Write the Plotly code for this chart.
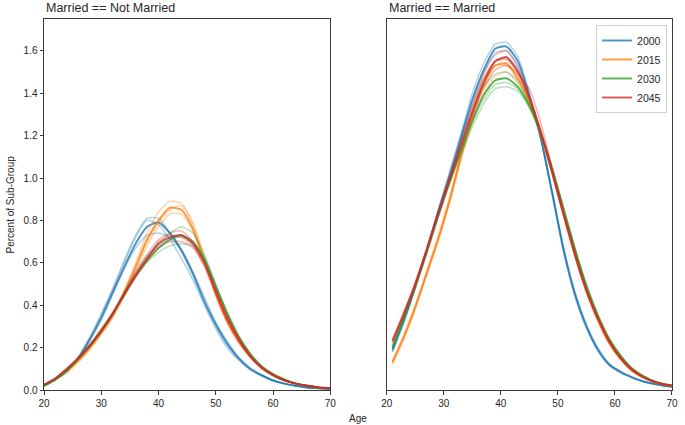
import plotly.graph_objects as go

# ---------------- data ----------------
YEARS = ["2000", "2015", "2030", "2045"]
COLORS = ["#1f77b4", "#ff7f0e", "#2ca02c", "#d62728"]

AGES_NM = [20, 22, 24, 26, 28, 30, 32, 34, 36, 38, 40, 42, 44, 46, 48, 50, 52, 54, 56, 58, 60, 62, 64, 66, 68, 70]
AGES_M = [21, 23, 25, 27, 29, 31, 33, 35, 37, 39, 41, 43, 45, 47, 49, 51, 53, 55, 57, 59, 61, 63, 65, 67, 69, 70]

# Not Married panel: mean curve per year group
NM_2000 = [0.02, 0.05, 0.09, 0.15, 0.24, 0.34, 0.46, 0.58, 0.69, 0.77, 0.79, 0.74, 0.66, 0.55, 0.42, 0.31, 0.22, 0.15, 0.10, 0.07, 0.045, 0.03, 0.02, 0.012, 0.008, 0.005]
NM_2015 = [0.02, 0.05, 0.09, 0.14, 0.20, 0.27, 0.35, 0.46, 0.58, 0.71, 0.80, 0.86, 0.85, 0.76, 0.61, 0.45, 0.32, 0.23, 0.16, 0.11, 0.07, 0.045, 0.03, 0.02, 0.012, 0.008]
NM_2030 = [0.02, 0.05, 0.09, 0.15, 0.21, 0.28, 0.36, 0.45, 0.54, 0.61, 0.67, 0.71, 0.73, 0.70, 0.62, 0.49, 0.36, 0.25, 0.17, 0.11, 0.075, 0.05, 0.03, 0.02, 0.012, 0.008]
NM_2045 = [0.025, 0.055, 0.10, 0.15, 0.21, 0.28, 0.36, 0.45, 0.54, 0.62, 0.69, 0.72, 0.73, 0.69, 0.60, 0.47, 0.34, 0.24, 0.16, 0.105, 0.07, 0.045, 0.03, 0.02, 0.012, 0.008]

# Not Married panel: individual year lines
NM_2000_THIN = [
    [0.02, 0.05, 0.10, 0.16, 0.25, 0.36, 0.48, 0.61, 0.73, 0.81, 0.81, 0.74, 0.65, 0.54, 0.41, 0.30, 0.21, 0.145, 0.10, 0.07, 0.045, 0.03, 0.02, 0.012, 0.008, 0.005],
    [0.02, 0.05, 0.09, 0.15, 0.23, 0.33, 0.45, 0.57, 0.67, 0.73, 0.74, 0.72, 0.66, 0.56, 0.44, 0.32, 0.23, 0.155, 0.105, 0.07, 0.047, 0.03, 0.02, 0.012, 0.008, 0.005],
    [0.02, 0.05, 0.09, 0.15, 0.24, 0.35, 0.47, 0.60, 0.72, 0.80, 0.78, 0.71, 0.62, 0.52, 0.40, 0.29, 0.20, 0.14, 0.095, 0.065, 0.042, 0.028, 0.018, 0.011, 0.007, 0.005],
]
NM_2015_THIN = [
    [0.02, 0.05, 0.09, 0.14, 0.20, 0.27, 0.36, 0.47, 0.60, 0.74, 0.84, 0.89, 0.88, 0.78, 0.62, 0.46, 0.33, 0.23, 0.16, 0.11, 0.07, 0.045, 0.03, 0.02, 0.012, 0.008],
    [0.02, 0.05, 0.08, 0.13, 0.19, 0.26, 0.34, 0.44, 0.56, 0.68, 0.77, 0.83, 0.83, 0.75, 0.61, 0.46, 0.33, 0.235, 0.165, 0.11, 0.072, 0.046, 0.03, 0.02, 0.012, 0.008],
    [0.02, 0.05, 0.09, 0.14, 0.20, 0.28, 0.36, 0.46, 0.58, 0.70, 0.79, 0.85, 0.87, 0.79, 0.63, 0.46, 0.32, 0.22, 0.155, 0.105, 0.068, 0.044, 0.03, 0.02, 0.012, 0.008],
]
NM_2030_THIN = [
    [0.02, 0.05, 0.09, 0.15, 0.21, 0.28, 0.36, 0.45, 0.55, 0.63, 0.69, 0.74, 0.77, 0.74, 0.64, 0.50, 0.36, 0.25, 0.17, 0.11, 0.075, 0.05, 0.03, 0.02, 0.012, 0.008],
    [0.02, 0.05, 0.09, 0.14, 0.20, 0.27, 0.35, 0.44, 0.53, 0.60, 0.65, 0.68, 0.69, 0.68, 0.61, 0.49, 0.37, 0.26, 0.175, 0.115, 0.077, 0.05, 0.032, 0.02, 0.012, 0.008],
    [0.02, 0.05, 0.09, 0.15, 0.21, 0.29, 0.37, 0.46, 0.55, 0.63, 0.68, 0.71, 0.72, 0.70, 0.61, 0.48, 0.35, 0.245, 0.165, 0.11, 0.072, 0.048, 0.03, 0.02, 0.012, 0.008],
]
NM_2045_THIN = [
    [0.025, 0.055, 0.10, 0.15, 0.21, 0.28, 0.36, 0.46, 0.56, 0.64, 0.71, 0.74, 0.75, 0.70, 0.60, 0.46, 0.33, 0.23, 0.155, 0.10, 0.068, 0.044, 0.03, 0.02, 0.012, 0.008],
    [0.025, 0.055, 0.10, 0.15, 0.21, 0.28, 0.36, 0.45, 0.53, 0.61, 0.67, 0.70, 0.70, 0.67, 0.59, 0.47, 0.35, 0.25, 0.165, 0.11, 0.072, 0.046, 0.03, 0.02, 0.012, 0.008],
    [0.025, 0.055, 0.10, 0.15, 0.21, 0.28, 0.36, 0.45, 0.54, 0.62, 0.70, 0.73, 0.72, 0.68, 0.58, 0.45, 0.33, 0.235, 0.16, 0.105, 0.07, 0.045, 0.03, 0.02, 0.012, 0.008],
]

# Married panel: mean curve per year group
M_2000 = [0.19, 0.33, 0.49, 0.66, 0.84, 1.01, 1.19, 1.37, 1.51, 1.61, 1.62, 1.55, 1.39, 1.19, 0.93, 0.66, 0.45, 0.30, 0.19, 0.12, 0.085, 0.06, 0.04, 0.028, 0.018, 0.015]
M_2015 = [0.13, 0.25, 0.39, 0.55, 0.71, 0.89, 1.10, 1.29, 1.44, 1.53, 1.54, 1.47, 1.36, 1.21, 1.03, 0.83, 0.64, 0.47, 0.33, 0.22, 0.145, 0.09, 0.058, 0.036, 0.023, 0.02]
M_2030 = [0.20, 0.34, 0.49, 0.65, 0.82, 0.98, 1.13, 1.27, 1.39, 1.46, 1.47, 1.43, 1.34, 1.21, 1.04, 0.85, 0.66, 0.49, 0.35, 0.24, 0.16, 0.10, 0.065, 0.04, 0.026, 0.022]
M_2045 = [0.23, 0.36, 0.50, 0.66, 0.83, 0.99, 1.15, 1.31, 1.45, 1.55, 1.57, 1.50, 1.38, 1.22, 1.03, 0.83, 0.64, 0.47, 0.34, 0.23, 0.15, 0.095, 0.06, 0.038, 0.024, 0.02]

# Married panel: individual year lines
M_2000_THIN = [
    [0.18, 0.32, 0.48, 0.66, 0.85, 1.03, 1.21, 1.40, 1.54, 1.63, 1.64, 1.57, 1.40, 1.19, 0.92, 0.65, 0.44, 0.29, 0.185, 0.115, 0.08, 0.057, 0.04, 0.028, 0.018, 0.015],
    [0.19, 0.33, 0.49, 0.66, 0.83, 1.00, 1.17, 1.34, 1.47, 1.55, 1.57, 1.51, 1.37, 1.18, 0.93, 0.67, 0.46, 0.31, 0.20, 0.125, 0.088, 0.062, 0.042, 0.029, 0.019, 0.016],
    [0.18, 0.32, 0.48, 0.65, 0.83, 1.00, 1.18, 1.36, 1.50, 1.59, 1.60, 1.53, 1.38, 1.19, 0.94, 0.67, 0.46, 0.30, 0.195, 0.12, 0.085, 0.06, 0.04, 0.028, 0.018, 0.015],
]
M_2015_THIN = [
    [0.13, 0.25, 0.40, 0.56, 0.73, 0.91, 1.12, 1.32, 1.47, 1.55, 1.56, 1.49, 1.37, 1.21, 1.02, 0.82, 0.63, 0.46, 0.33, 0.22, 0.145, 0.09, 0.058, 0.036, 0.023, 0.02],
    [0.12, 0.24, 0.38, 0.54, 0.70, 0.88, 1.08, 1.26, 1.40, 1.48, 1.50, 1.46, 1.36, 1.21, 1.04, 0.84, 0.65, 0.48, 0.34, 0.23, 0.15, 0.093, 0.06, 0.037, 0.024, 0.02],
    [0.14, 0.26, 0.40, 0.55, 0.71, 0.90, 1.10, 1.29, 1.44, 1.53, 1.53, 1.46, 1.35, 1.20, 1.02, 0.83, 0.64, 0.47, 0.33, 0.22, 0.145, 0.09, 0.058, 0.036, 0.023, 0.02],
]
M_2030_THIN = [
    [0.20, 0.34, 0.49, 0.66, 0.83, 1.00, 1.16, 1.31, 1.43, 1.49, 1.50, 1.45, 1.35, 1.21, 1.04, 0.85, 0.66, 0.49, 0.35, 0.24, 0.16, 0.10, 0.065, 0.04, 0.026, 0.022],
    [0.20, 0.33, 0.48, 0.64, 0.81, 0.97, 1.11, 1.24, 1.35, 1.42, 1.43, 1.41, 1.33, 1.21, 1.05, 0.86, 0.67, 0.50, 0.36, 0.245, 0.165, 0.105, 0.067, 0.041, 0.026, 0.022],
    [0.21, 0.35, 0.50, 0.66, 0.82, 0.98, 1.12, 1.26, 1.37, 1.44, 1.45, 1.42, 1.34, 1.22, 1.05, 0.86, 0.67, 0.49, 0.35, 0.24, 0.16, 0.10, 0.065, 0.04, 0.026, 0.022],
]
M_2045_THIN = [
    [0.23, 0.36, 0.50, 0.66, 0.83, 1.00, 1.17, 1.34, 1.49, 1.58, 1.60, 1.52, 1.38, 1.21, 1.02, 0.82, 0.63, 0.46, 0.33, 0.225, 0.15, 0.095, 0.06, 0.038, 0.024, 0.02],
    [0.22, 0.35, 0.49, 0.65, 0.82, 0.98, 1.14, 1.29, 1.42, 1.51, 1.53, 1.49, 1.42, 1.26, 1.05, 0.84, 0.65, 0.48, 0.34, 0.23, 0.15, 0.095, 0.06, 0.038, 0.024, 0.02],
    [0.24, 0.37, 0.51, 0.67, 0.84, 1.00, 1.16, 1.32, 1.46, 1.55, 1.56, 1.50, 1.37, 1.21, 1.02, 0.82, 0.63, 0.47, 0.34, 0.23, 0.15, 0.095, 0.06, 0.038, 0.024, 0.02],
]

Y_TICKS = [0.0, 0.2, 0.4, 0.6, 0.8, 1.0, 1.2, 1.4, 1.6]
X_TICKS = [20, 30, 40, 50, 60, 70]
TITLES = ["Married == Not Married", "Married == Married"]

# ---------------- figure ----------------
FONT = "Liberation Sans, Arial, sans-serif"
TXT = "#262626"
EDGE = "#3a3a3a"

fig = go.Figure()

panels = [
    ("x", "y", AGES_NM, [NM_2000, NM_2015, NM_2030, NM_2045],
     [NM_2000_THIN, NM_2015_THIN, NM_2030_THIN, NM_2045_THIN], False),
    ("x2", "y2", AGES_M, [M_2000, M_2015, M_2030, M_2045],
     [M_2000_THIN, M_2015_THIN, M_2030_THIN, M_2045_THIN], True),
]

for xa, ya, ages, means, thins, show_leg in panels:
    for i, year in enumerate(YEARS):
        for t in thins[i]:
            fig.add_trace(go.Scatter(
                x=ages, y=t, mode="lines", xaxis=xa, yaxis=ya,
                line=dict(color=COLORS[i], width=1.5, shape="spline", smoothing=0.6),
                opacity=0.33, showlegend=False, hoverinfo="skip"))
        fig.add_trace(go.Scatter(
            x=ages, y=means[i], mode="lines", xaxis=xa, yaxis=ya,
            line=dict(color=COLORS[i], width=1.9, shape="spline", smoothing=0.6),
            opacity=0.8, name=year, showlegend=show_leg, legendgroup=year))

W, H = 685, 425
ML, MR, MT, MB = 44, 7, 19, 35
PW = W - ML - MR
d1 = [0, (333 - ML) / PW]
d2 = [(390 - ML) / PW, 1]

axis_common = dict(
    showline=True, linecolor=EDGE, linewidth=1, mirror=True,
    ticks="outside", ticklen=3.5, tickwidth=1, tickcolor=EDGE,
    showgrid=False, zeroline=False,
    tickfont=dict(family=FONT, size=10, color=TXT),
)

y2_axis = {k: v for k, v in axis_common.items() if k != "ticks"}

fig.update_layout(
    width=W, height=H,
    margin=dict(l=ML, r=MR, t=MT, b=MB),
    paper_bgcolor="white", plot_bgcolor="white",
    font=dict(family=FONT, color=TXT),
    xaxis=dict(domain=d1, range=[20, 70], tickvals=X_TICKS, **axis_common),
    xaxis2=dict(domain=d2, range=[20, 70], tickvals=X_TICKS, **axis_common),
    yaxis=dict(domain=[0, 1], range=[0, 1.75], tickvals=Y_TICKS, tickformat=".1f", **axis_common),
    yaxis2=dict(anchor="x2", domain=[0, 1], range=[0, 1.75], matches="y",
                showticklabels=False, ticks="", **y2_axis),
    legend=dict(
        x=(673 - ML) / PW, y=(H - MB - 25) / (H - MT - MB), xanchor="right", yanchor="top",
        bgcolor="rgba(255,255,255,0.8)", bordercolor="#d0d0d0", borderwidth=1,
        font=dict(family=FONT, size=10.5, color=TXT), itemwidth=30, tracegroupgap=0,
    ),
    annotations=[
        dict(text=TITLES[0], xref="paper", yref="paper", x=d1[0], y=1, xanchor="left", yanchor="bottom",
             yshift=2, showarrow=False, font=dict(family=FONT, size=12.5, color=TXT)),
        dict(text=TITLES[1], xref="paper", yref="paper", x=d2[0], y=1, xanchor="left", yanchor="bottom",
             yshift=2, showarrow=False, font=dict(family=FONT, size=12.5, color=TXT)),
        dict(text="Age", xref="paper", yref="paper", x=(361 - ML) / PW, y=0, xanchor="center", yanchor="top",
             yshift=-21, showarrow=False, font=dict(family=FONT, size=10, color=TXT)),
        dict(text="Percent of Sub-Group", xref="paper", yref="paper", x=0, y=0.5, xanchor="center",
             yanchor="middle", xshift=-34, textangle=-90, showarrow=False,
             font=dict(family=FONT, size=10, color=TXT)),
    ],
)

fig.write_html("out.html")
